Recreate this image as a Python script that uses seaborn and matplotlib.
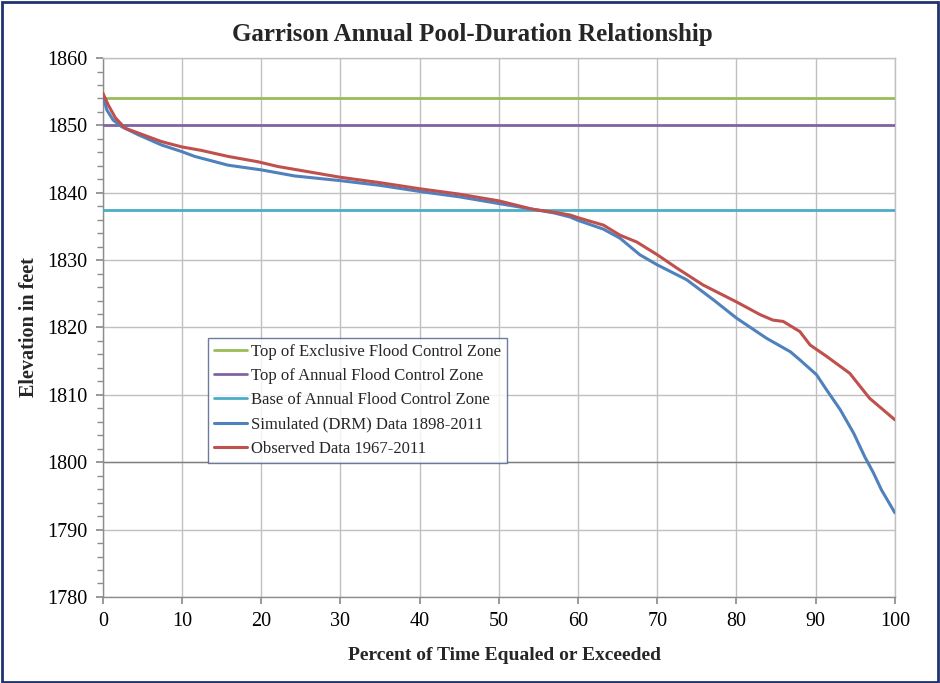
import matplotlib
matplotlib.use("Agg")
import matplotlib.pyplot as plt
import seaborn as sns
import pandas as pd
from matplotlib.patches import Rectangle
from matplotlib.ticker import MultipleLocator

# ---- data ----
zone_labels = ["Top of Exclusive Flood Control Zone",
               "Top of Annual Flood Control Zone",
               "Base of Annual Flood Control Zone"]
zone_levels = [1854.0, 1850.0, 1837.5]

pct_sim = [0, 0.5, 1.3, 2.4, 4.5, 7.4, 10, 11.6, 15.8, 20, 24.2, 30, 35, 40, 45,
           50, 54.3, 57, 59, 60, 63.2, 65.3, 67.8, 70, 73.7, 77.1, 80, 83.8,
           86.8, 88, 90.1, 91.4, 93.1, 94.8, 96.2, 97.3, 98.3, 100]
elev_sim = [1854.5, 1852.3, 1850.8, 1849.8, 1848.6, 1847.1, 1846.1, 1845.4,
            1844.1, 1843.4, 1842.5, 1841.8, 1841.1, 1840.2, 1839.4, 1838.4,
            1837.55, 1837.0, 1836.4, 1835.9, 1834.6, 1833.25, 1830.8, 1829.3,
            1827.1, 1824.1, 1821.4, 1818.4, 1816.4, 1815.2, 1813.0, 1810.7,
            1807.8, 1804.3, 1800.8, 1798.4, 1795.9, 1792.5]

pct_obs = [0, 0.7, 1.6, 2.8, 7.4, 10, 12.4, 15.8, 19.6, 22.1, 30, 35, 40, 45,
           50, 54.3, 57, 59, 60, 63.2, 65.3, 67.4, 70, 72.5, 75.8, 80, 83,
           84.6, 85.9, 88, 89.3, 91.4, 94.3, 96.8, 98, 100]
elev_obs = [1854.8, 1853.0, 1851.1, 1849.6, 1847.6, 1846.8, 1846.3, 1845.4,
            1844.6, 1843.9, 1842.3, 1841.5, 1840.6, 1839.8, 1838.8, 1837.55,
            1837.1, 1836.7, 1836.3, 1835.2, 1833.7, 1832.7, 1830.8, 1828.8,
            1826.3, 1823.8, 1821.9, 1821.1, 1820.9, 1819.4, 1817.4, 1815.7,
            1813.2, 1809.5, 1808.3, 1806.3]

sim_label = "Simulated (DRM) Data 1898-2011"
obs_label = "Observed Data 1967-2011"

x_ticks = [0, 10, 20, 30, 40, 50, 60, 70, 80, 90, 100]
y_ticks = [1780, 1790, 1800, 1810, 1820, 1830, 1840, 1850, 1860]

# ---- style ----
sns.set_theme(style="white")
plt.rcParams["font.family"] = ["Liberation Serif", "DejaVu Serif"]

zone_colors = ["#9BBB59", "#8064A2", "#4BACC6"]
sim_color = "#4F81BD"
obs_color = "#C0504D"

fig = plt.figure(figsize=(9.4, 6.83), dpi=100)
ax = fig.add_axes([0.1094, 0.126, 0.8426, 0.789])

for lvl, lab, col in zip(zone_levels, zone_labels, zone_colors):
    ax.axhline(lvl, color=col, lw=2.0, label=lab, zorder=3)

df_sim = pd.DataFrame({"pct": pct_sim, "elev": elev_sim})
df_obs = pd.DataFrame({"pct": pct_obs, "elev": elev_obs})
sns.lineplot(data=df_sim, x="pct", y="elev", ax=ax, color=sim_color, lw=2.2,
             label=sim_label, zorder=4)
sns.lineplot(data=df_obs, x="pct", y="elev", ax=ax, color=obs_color, lw=2.2,
             label=obs_label, zorder=5)

ax.set_xlim(0, 100)
ax.set_ylim(1780, 1860)
ax.set_xticks(x_ticks)
ax.set_yticks(y_ticks)
ax.yaxis.set_minor_locator(MultipleLocator(2))
ax.grid(True, which="major", color="#C0C0C0", lw=1.0)
ax.axhline(1800, color="#7F7F7F", lw=1.0, zorder=1)

ax.tick_params(axis="both", which="major", direction="out", length=5,
               color="#8C8C8C", labelsize=14.5, labelcolor="black",
               left=True, bottom=True, pad=6)
ax.tick_params(axis="y", which="minor", direction="out", length=4,
               color="#8C8C8C", left=True)
for side in ["top", "right"]:
    ax.spines[side].set_color("#C0C0C0")
for side in ["left", "bottom"]:
    ax.spines[side].set_color("#8C8C8C")
for s in ax.spines.values():
    s.set_linewidth(1.0)

ax.set_xlabel("Percent of Time Equaled or Exceeded", fontsize=14,
              fontweight="bold")
ax.xaxis.set_label_coords(0.507, -0.092)
ax.set_ylabel("Elevation in feet", fontsize=14.5, fontweight="bold", labelpad=6)
fig.suptitle("Garrison Annual Pool-Duration Relationship", fontsize=18,
             fontweight="bold", x=0.503, y=0.967)

leg = ax.legend(loc="lower left", bbox_to_anchor=(0.133, 0.249), fontsize=12,
                frameon=True, fancybox=False, handlelength=2.0,
                handletextpad=0.2, borderpad=0.35, labelspacing=0.5,
                borderaxespad=0)
leg.get_frame().set_edgecolor("#4A5A8A")
leg.get_frame().set_linewidth(1.0)

fig.patches.append(Rectangle((0.002, 0.002), 0.996, 0.995,
                             transform=fig.transFigure, fill=False,
                             edgecolor="#1F3370", lw=2.0))

fig.savefig("out.png", dpi=100)
